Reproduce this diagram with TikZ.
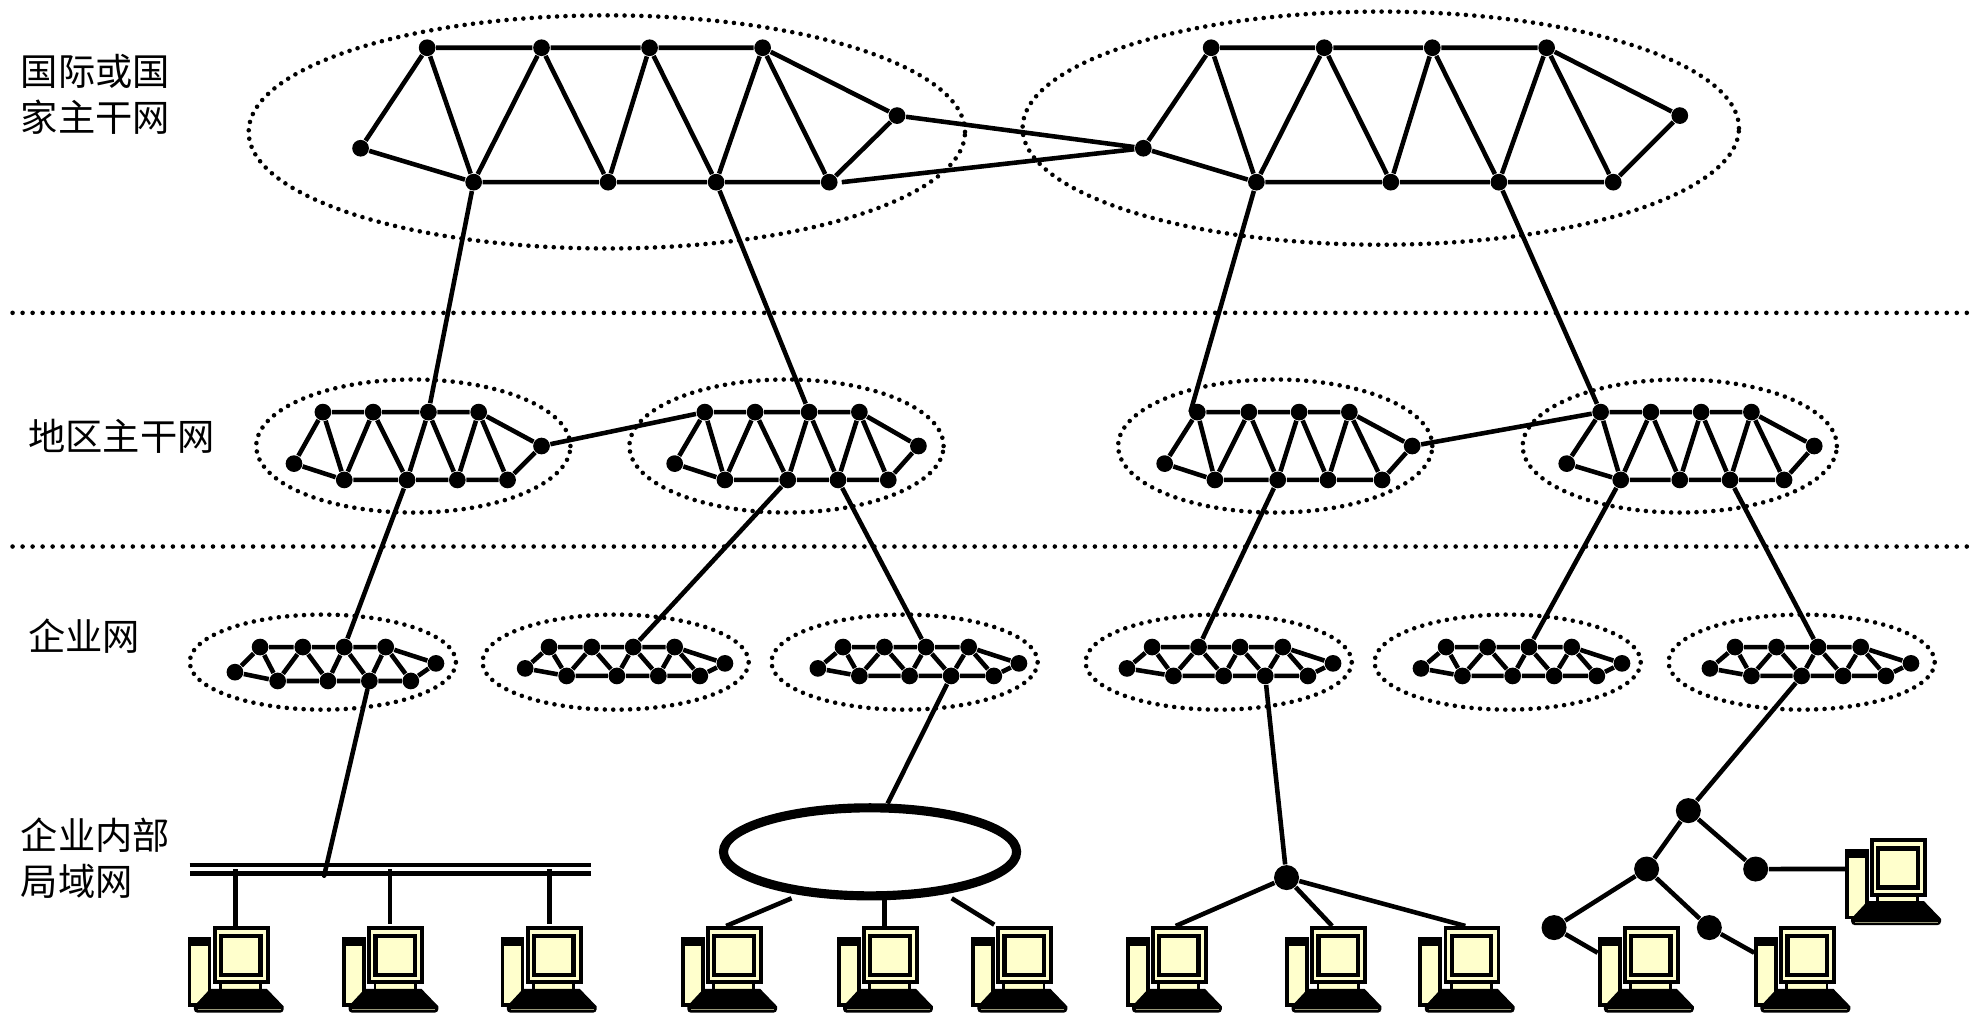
\documentclass[tikz,border=0pt]{standalone}
\usepackage{fontspec}
\usetikzlibrary{shapes.geometric}
\newfontfamily\cjk{Noto Sans CJK SC}
\definecolor{pcyellow}{HTML}{FFFFCC}
\tikzstyle{dot} = [circle, minimum width=.167cm, fill, inner sep=0pt]
\tikzstyle{hub} = [circle, minimum width=.25cm, fill, inner sep=0pt]
\tikzstyle{link} = [line width=1.3pt]
\tikzstyle{dots} = [line width=1.3pt, line cap=round, dash pattern=on 0pt off 2.4pt]
\tikzstyle{sep} = [line width=1.3pt, line cap=round, dash pattern=on 0pt off 2.85pt]
\tikzstyle{bigring} = [ellipse, draw, dots, minimum width=7.16cm, minimum height=2.33cm, inner sep=0pt]
\tikzstyle{midring} = [ellipse, draw, dots, minimum width=3.14cm, minimum height=1.33cm, inner sep=0pt]
\tikzstyle{smallring} = [ellipse, draw, dots, minimum width=2.66cm, minimum height=.95cm, inner sep=0pt]
\tikzstyle{label} = [anchor=west, align=left, font=\cjk\fontsize{10.6}{13.2}\selectfont, inner sep=0pt]
\tikzstyle{pcbox} = [draw, line width=1.1pt, fill=pcyellow, inner sep=0pt, anchor=north west]
\tikzset{
  computer/.pic={
    \node [pcbox, minimum width=.2cm, minimum height=.665cm] (-tower) at (-20,8.5) {};
    \fill (-20,10.5) rectangle (-1.5,16);
    \fill [pcyellow] (6,46) rectangle (38,51);
    \draw [line width=.8pt] (6,46) -- (6,51) (38,46) -- (38,51);
    \node [pcbox, minimum width=.53cm, minimum height=.545cm] (-monitor) at (0,0) {};
    \draw [line width=1.2pt, fill=pcyellow] (6.5,8) rectangle (38,39);
    \fill (-2,50) -- (43,50) -- (56.5,64) [rounded corners=1pt] -- (56.5,69) -- (-15,69) [sharp corners] -- (-15,64) -- cycle;
    \draw [line width=.2pt, color=pcyellow!60!black] (-12,66.5) -- (54,66.5);
  }
}
\newcommand{\netnodes}[2]{\foreach \n/\px/\py in {#2} \node [dot] (#1\n) at (\px,\py) {};}
\newcommand{\netedges}[1]{
  \draw [link] (#1l) -- (#1t1) -- (#1t2) -- (#1t3) -- (#1t4) -- (#1r) -- (#1b4) -- (#1b3) -- (#1b2) -- (#1b1) -- (#1l);
  \draw [link] (#1t1) -- (#1b1) -- (#1t2) -- (#1b2) -- (#1t3) -- (#1b3) -- (#1t4) -- (#1b4);
}
\begin{document}
\begin{tikzpicture}[x=.0125638cm, y=-.0125638cm]
    \useasboundingbox (0,0) rectangle (1568,808);

    % labels
    \node (lblA) [label] at (16,75) {国际或国\\家主干网};
    \node (lblB) [label] at (22,347) {地区主干网};
    \node (lblC) [label] at (22,506) {企业网};
    \node (lblD) [label] at (16,683) {企业内部\\局域网};

    % separators
    \coordinate (sepAl) at (10,249);
    \coordinate (sepAr) at (1568,249);
    \coordinate (sepBl) at (10,435);
    \coordinate (sepBr) at (1568,435);
    \draw [sep] (sepAl) -- (sepAr);
    \draw [sep] (sepBl) -- (sepBr);

    % backbone
    \node (ringA) [bigring] at (483,105) {};
    \node (ringB) [bigring] at (1099,102) {};
    \netnodes{A}{t1/340/38, t2/431/38, t3/517/38, t4/607/38, r/714/92, b4/660/145, b3/570/145, b2/484/145, b1/377/145, l/287/118}
    \netnodes{B}{t1/964/38, t2/1054/38, t3/1140/38, t4/1231/38, r/1337/92, b4/1284/145, b3/1193/145, b2/1107/145, b1/1000/145, l/910/118}
    \netedges{A}
    \netedges{B}
    \coordinate (gapA) at (670,145);
    \draw [link] (Ar) -- (Bl) -- (gapA);

    % regional
    \node (ringC) [midring] at (329,355) {};
    \node (ringD) [midring] at (626,355) {};
    \node (ringE) [midring] at (1015,355) {};
    \node (ringF) [midring] at (1337,355) {};
    \netnodes{C}{t1/257/328, t2/297/328, t3/341/328, t4/381/328, r/431/355, b4/404/382, b3/364/382, b2/324/382, b1/274/382, l/234/369}
    \netnodes{D}{t1/561/328, t2/601/328, t3/644/328, t4/684/328, r/731/355, b4/707/382, b3/667/382, b2/627/382, b1/577/382, l/537/369}
    \netnodes{E}{t1/953/328, t2/994/328, t3/1034/328, t4/1074/328, r/1124/355, b4/1100/382, b3/1057/382, b2/1017/382, b1/967/382, l/927/369}
    \netnodes{F}{t1/1274/328, t2/1314/328, t3/1354/328, t4/1394/328, r/1444/355, b4/1420/382, b3/1377/382, b2/1337/382, b1/1290/382, l/1247/369}
    \netedges{C}
    \netedges{D}
    \netedges{E}
    \netedges{F}
    \coordinate (tapE) at (947.5,328);
    \draw [link] (Cr) -- (Dt1);
    \draw [link] (Er) -- (Ft1);
    \draw [link] (Ab1) -- (Ct3);
    \draw [link] (Ab3) -- (Dt3);
    \draw [link] (Bb1) -- (tapE);
    \draw [link] (Bb3) -- (Ft1);

    % enterprise
    \node (ringG) [smallring] at (257,527) {};
    \node (ringH) [smallring] at (490,527) {};
    \node (ringI) [smallring] at (720,527) {};
    \node (ringJ) [smallring] at (970,527) {};
    \node (ringK) [smallring] at (1200,527) {};
    \node (ringL) [smallring] at (1434,527) {};
    \netnodes{G}{t1/207/515, t2/241/515, t3/274/515, t4/307/515, r/347/528, b4/327/542, b3/294/542, b2/261/542, b1/221/542, l/187/535}
    \netnodes{H}{t1/437/515, t2/471/515, t3/504/515, t4/537/515, r/577/528, b4/557/538, b3/524/538, b2/491/538, b1/451/538, l/418/532}
    \netnodes{I}{t1/671/515, t2/704/515, t3/737/515, t4/771/515, r/811/528, b4/791/538, b3/757/538, b2/724/538, b1/684/538, l/651/532}
    \netnodes{J}{t1/917/515, t2/954/515, t3/987/515, t4/1021/515, r/1061/528, b4/1041/538, b3/1007/538, b2/974/538, b1/934/538, l/897/532}
    \netnodes{K}{t1/1151/515, t2/1184/515, t3/1217/515, t4/1251/515, r/1291/528, b4/1271/538, b3/1237/538, b2/1204/538, b1/1164/538, l/1131/532}
    \netnodes{L}{t1/1381/515, t2/1414/515, t3/1447/515, t4/1481/515, r/1521/528, b4/1501/538, b3/1467/538, b2/1434/538, b1/1394/538, l/1361/532}
    \netedges{G}
    \netedges{H}
    \netedges{I}
    \netedges{J}
    \netedges{K}
    \netedges{L}
    \draw [link] (Cb2) -- (Gt3);
    \draw [link] (Db2) -- (Ht3);
    \draw [link] (Db3) -- (It3);
    \draw [link] (Eb2) -- (Jt2);
    \draw [link] (Fb1) -- (Kt3);
    \draw [link] (Fb3) -- (Lt3);

    % computers
    \pic (pcA) at (169.3,737) {computer};
    \pic (pcB) at (292.4,737) {computer};
    \pic (pcC) at (418.4,737) {computer};
    \pic (pcD) at (562,737) {computer};
    \pic (pcE) at (686,737) {computer};
    \pic (pcF) at (793,737) {computer};
    \pic (pcG) at (916,737) {computer};
    \pic (pcH) at (1043,737) {computer};
    \pic (pcI) at (1149,737) {computer};
    \pic (pcJ) at (1291.6,737) {computer};
    \pic (pcK) at (1416.2,737) {computer};
    \pic (pcL) at (1488.4,667.3) {computer};

    % bus
    \coordinate (busL) at (151,692);
    \coordinate (busR) at (470,692);
    \coordinate (busIn) at (258,697);
    \coordinate (tapA) at (187.3,692);
    \coordinate (tapB) at (310.4,692);
    \coordinate (tapC) at (437.2,692);
    \draw [line width=1.2pt, double, double distance=1.1pt] (busL) -- (busR);
    \draw [link, line cap=round] (Gb3) -- (busIn);
    \draw [link] (tapA) -- (tapA |- pcA-monitor.north);
    \draw [link, shorten >=.7pt] (tapB) -- (tapB |- pcB-monitor.north);
    \draw [link, shorten >=.7pt] (tapC) -- (tapC |- pcC-monitor.north);

    % ring
    \node (ring) [ellipse, draw, line width=2.6pt, minimum width=2.93cm, minimum height=.88cm, inner sep=0pt] at (692.5,678) {};
    \coordinate (ringTapL) at (630,715);
    \coordinate (ringTapM) at (704,716);
    \coordinate (ringTapR) at (757.5,715);
    \draw [link] (Ib3) -- (ring.70);
    \draw [link] (ringTapL) -- (pcD-monitor.106);
    \draw [link] (ringTapM) -- (ringTapM |- pcE-monitor.north);
    \draw [link, shorten >=.7pt] (ringTapR) -- (pcF-monitor.north west);

    % star
    \node (star) [hub] at (1024,698.5) {};
    \draw [link] (Jb3) -- (star);
    \draw [link] (star) -- (pcG-monitor.97);
    \draw [link] (star) -- (pcH-monitor.103);
    \draw [link] (star) -- (pcI-monitor.103);

    % tree
    \node (hubA) [hub] at (1343.8,645.2) {};
    \node (hubB) [hub] at (1310.6,691.7) {};
    \node (hubC) [hub] at (1397.4,691.7) {};
    \node (hubD) [hub] at (1236.9,738.3) {};
    \node (hubE) [hub] at (1360.5,738.3) {};
    \draw [link] (Lb2) -- (hubA);
    \draw [link] (hubA) -- (hubB) -- (hubD) -- (pcJ-tower.122);
    \draw [link] (hubB) -- (hubE) -- (pcK-tower.122);
    \draw [link] (hubA) -- (hubC) -- (pcL-tower.128);
\end{tikzpicture}
\end{document}
